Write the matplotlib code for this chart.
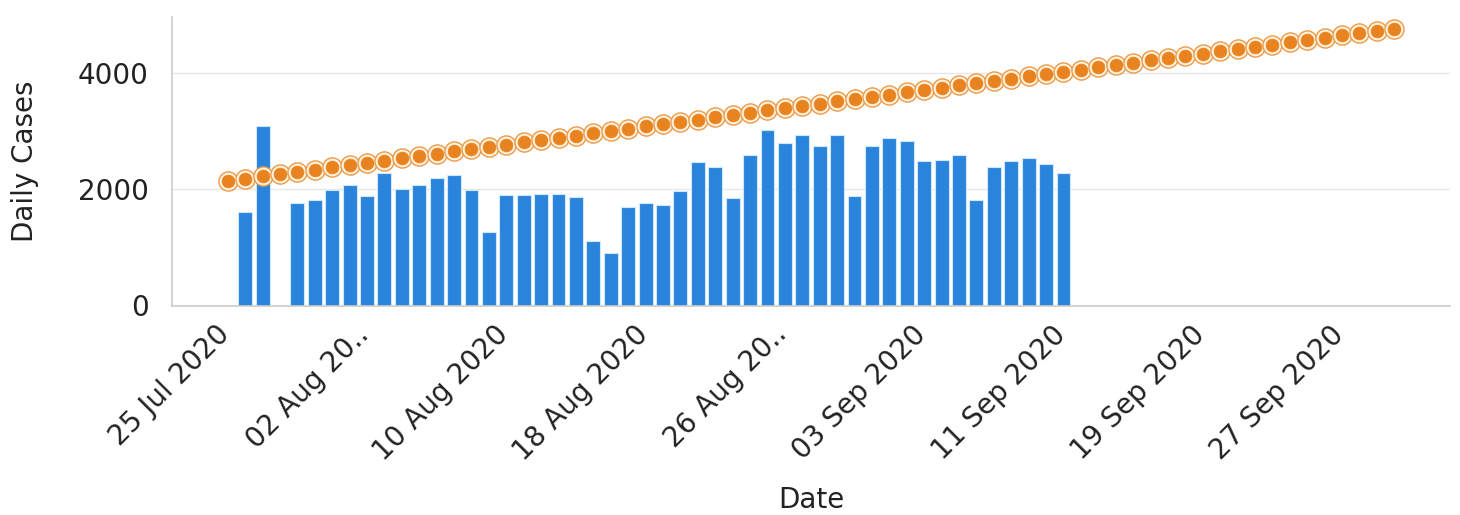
import matplotlib
matplotlib.use("Agg")
import matplotlib.pyplot as plt
import matplotlib.transforms as mtransforms
import pandas as pd

# ---- data ----
bar_dates = ["2020-07-26", "2020-07-27",
             "2020-07-29", "2020-07-30", "2020-07-31", "2020-08-01", "2020-08-02",
             "2020-08-03", "2020-08-04", "2020-08-05", "2020-08-06", "2020-08-07",
             "2020-08-08", "2020-08-09", "2020-08-10", "2020-08-11", "2020-08-12",
             "2020-08-13", "2020-08-14", "2020-08-15", "2020-08-16", "2020-08-17",
             "2020-08-18", "2020-08-19", "2020-08-20", "2020-08-21", "2020-08-22",
             "2020-08-23", "2020-08-24", "2020-08-25", "2020-08-26", "2020-08-27",
             "2020-08-28", "2020-08-29", "2020-08-30", "2020-08-31", "2020-09-01",
             "2020-09-02", "2020-09-03", "2020-09-04", "2020-09-05", "2020-09-06",
             "2020-09-07", "2020-09-08", "2020-09-09", "2020-09-10", "2020-09-11"]
daily_cases = [1600, 3090,
               1770, 1820, 1990, 2080, 1890,
               2280, 2010, 2080, 2200, 2250,
               1980, 1260, 1900, 1900, 1925,
               1910, 1870, 1110, 910, 1690,
               1770, 1735, 1965, 2470, 2380,
               1850, 2580, 3010, 2790, 2935,
               2750, 2925, 1880, 2740, 2885,
               2825, 2480, 2510, 2580, 1810,
               2385, 2480, 2540, 2425, 2280]

trend_start = "2020-07-25"
trend_values = [2140, 2179, 2218, 2257, 2297, 2336, 2375, 2414, 2453, 2492,
                2531, 2570, 2610, 2649, 2688, 2727, 2766, 2805, 2844, 2883,
                2922, 2962, 3001, 3040, 3079, 3118, 3157, 3196, 3235, 3275,
                3314, 3353, 3392, 3431, 3470, 3509, 3548, 3588, 3627, 3666,
                3705, 3744, 3783, 3822, 3861, 3901, 3940, 3979, 4018, 4057,
                4096, 4135, 4174, 4214, 4253, 4292, 4331, 4370, 4409, 4448,
                4487, 4527, 4566, 4605, 4644, 4683, 4722, 4761]

tick_dates = ["2020-07-25", "2020-08-02", "2020-08-10", "2020-08-18", "2020-08-26",
              "2020-09-03", "2020-09-11", "2020-09-19", "2020-09-27"]
tick_labels = ["25 Jul 2020", "02 Aug 20..", "10 Aug 2020", "18 Aug 2020", "26 Aug 20..",
               "03 Sep 2020", "11 Sep 2020", "19 Sep 2020", "27 Sep 2020"]
y_ticks = [0, 2000, 4000]

# ---- style ----
plt.rcParams['font.family'] = ['DejaVu Sans']
BLUE = '#2A84DC'
ORANGE = '#E8831F'
TEXT = '#222222'
FS = 20

fig = plt.figure(figsize=(14.6, 5.15), dpi=100)
ax = fig.add_axes([172/1460, 1 - 305.5/515, (1450-172)/1460, (305.5-17)/515])

bx = pd.to_datetime(bar_dates)
tx = pd.date_range(trend_start, periods=len(trend_values), freq='D')

ax.bar(bx, daily_cases, width=0.8, color=BLUE, edgecolor='#CFE8FF', linewidth=0.8, zorder=2)

ax.plot(tx, trend_values, color=ORANGE, linewidth=1.5, zorder=3)
ax.plot(tx, trend_values, linestyle='none', marker='o', markersize=13.8,
        markerfacecolor='#FFF2DE', markeredgecolor='#EC9A4A', markeredgewidth=1.0, zorder=4)
ax.plot(tx, trend_values, linestyle='none', marker='o', markersize=9.2,
        markerfacecolor=ORANGE, markeredgecolor=ORANGE, markeredgewidth=0.5, zorder=5)

x0 = pd.Timestamp(trend_start)
ax.set_xlim(x0 - pd.Timedelta(days=3.2), x0 + pd.Timedelta(days=70.2))
ax.set_ylim(0, 4960)

ax.set_yticks(y_ticks)
ax.set_yticklabels([str(v) for v in y_ticks])
ax.set_xticks(pd.to_datetime(tick_dates))
ax.set_xticklabels(tick_labels)

ax.grid(axis='y', color='#E8E8E8', linewidth=1.0, zorder=0)
ax.set_axisbelow(True)
for s in ['top', 'right']:
    ax.spines[s].set_visible(False)
for s in ['left', 'bottom']:
    ax.spines[s].set_color('#CCCCCC')
    ax.spines[s].set_linewidth(1.2)

ax.tick_params(axis='y', length=0, pad=17, labelsize=FS, labelcolor=TEXT)
ax.tick_params(axis='x', length=0, pad=20, labelsize=FS, labelcolor=TEXT)

offset = mtransforms.ScaledTranslation(-12/100, 13/100, fig.dpi_scale_trans)
for lbl in ax.get_xticklabels():
    lbl.set_rotation(45)
    lbl.set_rotation_mode('anchor')
    lbl.set_ha('right')
    lbl.set_va('top')
    lbl.set_transform(lbl.get_transform() + offset)

ax.set_ylabel('Daily Cases', fontsize=FS, color=TEXT)
ax.yaxis.set_label_coords(25/1460, 1 - 161/515, transform=fig.transFigure)
ax.set_xlabel('Date', fontsize=FS, color=TEXT)
ax.xaxis.set_label_coords(811/1460, 1 - 500/515, transform=fig.transFigure)
ax.xaxis.label.set_va('center')
ax.yaxis.label.set_va('center')

fig.savefig('out.png', dpi=100)
